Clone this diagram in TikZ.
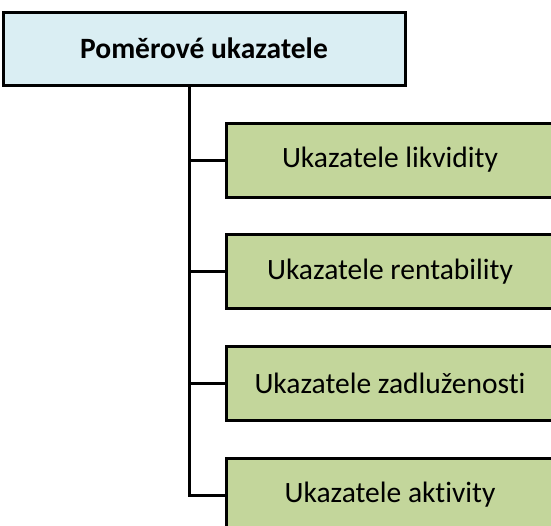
\documentclass[tikz,border=0pt]{standalone}
\usepackage{fontspec}
\setmainfont{Carlito}[Ligatures=NoCommon]
\definecolor{headblue}{HTML}{DAEEF3}
\definecolor{itemgreen}{HTML}{C3D69B}
\tikzset{
  headbox/.style={draw, line width=3pt, fill=headblue, minimum width=402pt, minimum height=73pt, inner sep=0pt, font=\fontsize{29.5}{35}\selectfont\bfseries},
  itembox/.style={draw, line width=3pt, fill=itemgreen, minimum width=328pt, minimum height=74pt, inner sep=0pt, font=\fontsize{29.5}{35}\selectfont},
  link/.style={line width=3pt}
}
\begin{document}
\begin{tikzpicture}[x=1pt,y=1pt]
\useasboundingbox (0,0) rectangle (551,-525);
\node[headbox] (head) at (204,-48.5) {Poměrové ukazatele};
\node[itembox] (likv) at (390,-160) {Ukazatele likvidity};
\node[itembox] (rent) at (390,-271.5) {Ukazatele rentability};
\node[itembox] (zadl) at (390,-383) {Ukazatele zadluženosti};
\node[itembox] (akt) at (390,-495) {Ukazatele aktivity};
\coordinate (trunk) at (189,0);
\draw[link] (head.south -| trunk) |- (akt.west);
\foreach \n in {likv,rent,zadl}
  \draw[link] (\n.west -| trunk) -- (\n.west);
\end{tikzpicture}
\end{document}
